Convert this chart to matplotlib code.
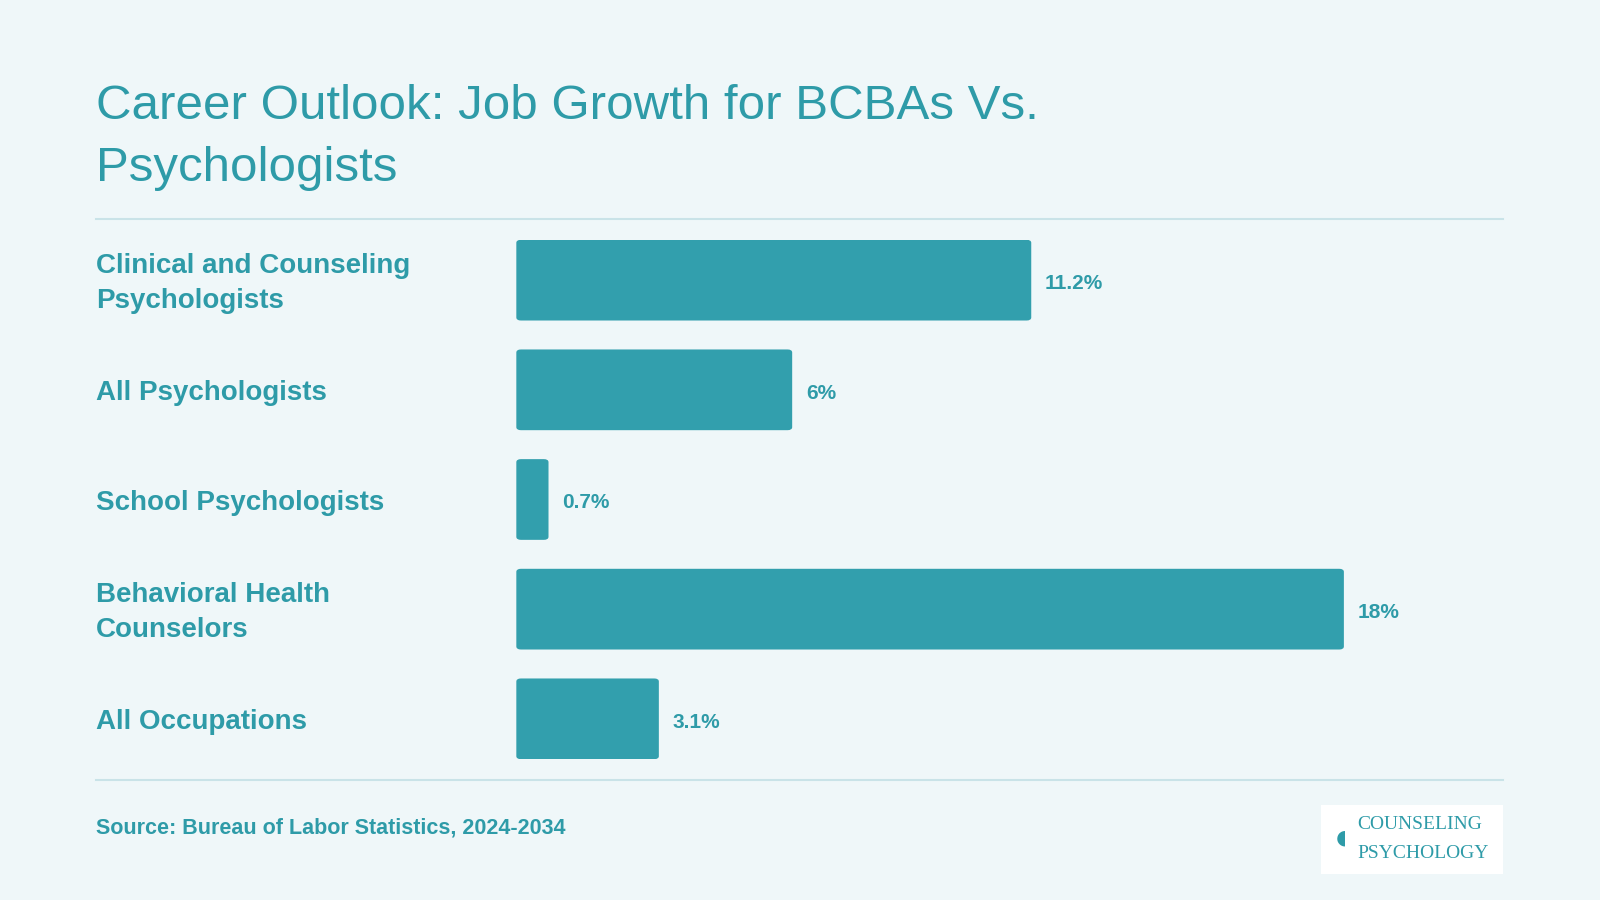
import matplotlib
matplotlib.use("Agg")
import matplotlib.pyplot as plt
from matplotlib.patches import FancyBboxPatch

categories = ["Clinical and Counseling\nPsychologists", "All Psychologists", "School Psychologists",
              "Behavioral Health\nCounselors", "All Occupations"]
values = [11.2, 6, 0.7, 18, 3.1]
value_labels = ["11.2%", "6%", "0.7%", "18%", "3.1%"]

BG = "#EFF7F9"; BAR = "#329FAD"; TXT = "#2E9BA8"; LINE = "#C9E3E8"
plt.rcParams['font.family'] = ['Liberation Sans', 'DejaVu Sans']

W, H = 1568, 882
fig = plt.figure(figsize=(16, 9), dpi=100, facecolor=BG)
def fx(x): return x / W
def fy(y): return 1 - y / H

fig.text(fx(94), fy(104), "Career Outlook: Job Growth for BCBAs Vs.", fontsize=35.5, color=TXT, va='center')
fig.text(fx(94), fy(165), "Psychologists", fontsize=35.5, color=TXT, va='center')
for y in (215, 764):
    fig.add_artist(plt.Line2D([fx(94), fx(1473)], [fy(y), fy(y)], color=LINE, lw=1.5))

ax = fig.add_axes([fx(506), fy(744), fx(1317) - fx(506), fy(235) - fy(744)])
ax.set_facecolor(BG)
ax.set_xlim(0, 18)
ax.set_ylim(4.368, -0.368)
ax.axis('off')
h = 0.736
for i, v in enumerate(values):
    ax.add_patch(FancyBboxPatch((0, i - h / 2), v, h, boxstyle="round,pad=0,rounding_size=0.1",
                                mutation_aspect=1 / 3.6, fc=BAR, ec='none'))
    ax.text(v + 0.3, i + 0.03, value_labels[i], color=TXT, fontsize=15, fontweight='bold', va='center')
    fig.text(fx(94), ax.transData.transform((0, i + 0.03))[1] / fig.bbox.height, categories[i],
             color=TXT, fontsize=20, fontweight='bold', va='center', linespacing=1.45)

fig.text(fx(94), fy(811), "Source: Bureau of Labor Statistics, 2024-2034", color=TXT, fontsize=15.5,
         fontweight='bold', va='center')
fig.add_artist(FancyBboxPatch((fx(1295), fy(857)), fx(178), fy(789) - fy(857), boxstyle="square,pad=0",
                              fc='white', ec='none', transform=fig.transFigure))
fig.text(fx(1330), fy(808), "COUNSELING", color=TXT, fontsize=14, family='Liberation Serif', va='center')
fig.text(fx(1330), fy(836), "PSYCHOLOGY", color=TXT, fontsize=14, family='Liberation Serif', va='center')
fig.text(fx(1303), fy(822), "\u25D6", color=TXT, fontsize=26, va='center')
fig.savefig("out.png", dpi=100, facecolor=BG)
